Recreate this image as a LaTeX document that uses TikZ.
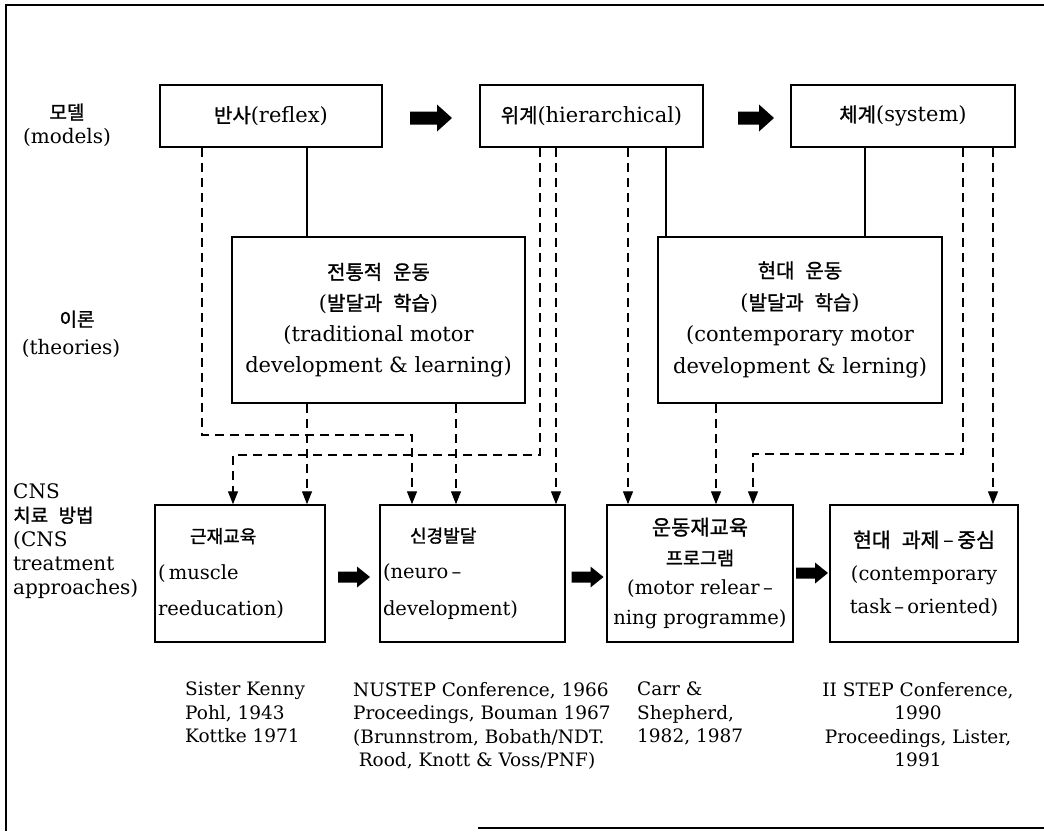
\documentclass[tikz,border=0pt]{standalone}
\usepackage{fontspec}
\setmainfont{DejaVu Serif}
\newfontfamily\kr{Noto Sans CJK KR}[Scale=0.95,FakeBold=1.2]
\usetikzlibrary{arrows.meta,calc}
\newcommand\K[1]{{\kr #1}}
\newcommand\ksp{\hspace{0.55em}}
% block arrow: #1 centre, #2 length, #3 shaft, #4 head width, #5 head length
\newcommand\barrow[5]{%
  \fill #1 ++({-#2/2},{-#3/2}) -- ++({#2-#5},0) -- ++(0,{-(#4-#3)/2})
    -- ++(#5,{#4/2}) -- ++({-#5},{#4/2}) -- ++(0,{-(#4-#3)/2})
    -- ++({-(#2-#5)},0) -- cycle;}
\begin{document}
\begin{tikzpicture}[x=1pt,y=-1pt,
  box/.style={draw,line width=1.5pt,inner sep=0pt,align=center},
  topbox/.style={box,minimum height=62pt,font=\fontsize{21}{25}\selectfont},
  midbox/.style={box,minimum height=166pt,font=\fontsize{21}{31}\selectfont},
  botbox/.style={box,minimum height=137pt,font=\fontsize{19.5}{33}\selectfont},
  lab/.style={inner sep=0pt,font=\fontsize{20}{24}\selectfont},
  refcap/.style={inner sep=0pt,font=\fontsize{18.5}{23.5}\selectfont,align=left,anchor=north west},
  sl/.style={line width=1.4pt},
  dl/.style={line width=1.4pt,dash pattern=on 9pt off 6pt},
  da/.style={dl,-{Triangle[length=13pt,width=10pt]}},
]
\useasboundingbox (0,0) rectangle (1044,831);
\fill[white] (0,0) rectangle (1044,831);
% frame
\draw[line width=1.8pt] (1044,5) -- (6,5) -- (6,831);
\draw[line width=1.8pt] (478,828) -- (1044,828);

% row labels
\node[lab,align=center] (lm) at (67,125) {\K{모델}\\(models)};
\node[lab,align=center,font=\fontsize{20}{28}\selectfont] (lt) at (71,334) {\hspace*{12pt}\K{이론}\\(theories)};
\node[lab,align=left,anchor=west] (lc) at (13,541) {CNS\\\K{치료\ksp 방법}\\(CNS\\treatment\\approaches)};

% models
\node[topbox,minimum width=222pt] (reflex) at (271,116) {\K{반사}(reflex)};
\node[topbox,minimum width=223pt] (hier) at (591.5,116) {\K{위계}(hierarchical)};
\node[topbox,minimum width=224pt] (sys) at (903,116) {\K{체계}(system)};

% theories
\node[midbox,minimum width=293pt] (trad) at (378.5,320)
  {\K{전통적\ksp 운동}\\(\K{발달과\ksp 학습})\\(traditional motor\\development \& learning)};
\node[midbox,minimum width=284pt,font=\fontsize{21}{32}\selectfont] (cont) at (800,320)
  {\K{현대\ksp 운동}\\(\K{발달과\ksp 학습})\\(contemporary motor\\development \& lerning)};

% approaches
\node[botbox,minimum width=170pt,text width=164pt,align=left,inner xsep=3pt,
      font=\fontsize{19.5}{36.5}\selectfont] (mus) at (240,573.5)
  {\hspace*{32pt}{\fontsize{19}{36.5}\selectfont\K{근재교육}}\\(\,muscle\\reeducation)};
\node[botbox,minimum width=185pt,text width=179pt,align=left,inner xsep=3pt,
      font=\fontsize{19.5}{36.5}\selectfont] (neuro) at (472.5,573.5)
  {\hspace*{27pt}{\fontsize{19}{36.5}\selectfont\K{신경발달}}\\(neuro\,–\\development)};
\node[botbox,minimum width=186pt,font=\fontsize{19.5}{30}\selectfont] (motor) at (700,573.5)
  {{\fontsize{22}{30}\selectfont\K{운동재교육}}\\{\fontsize{19.5}{30}\selectfont\K{프로그램}}\\(motor relear\,–\\ning programme)};
\node[botbox,minimum width=188pt] (task) at (924,573.5)
  {{\fontsize{21.5}{33}\selectfont\K{현대\ksp 과제}\,–\,\K{중심}}\\(contemporary\\task\,–\,oriented)};

% big arrows
\barrow{(431,118)}{42}{13}{27}{15}
\barrow{(756,118)}{36}{13}{27}{15}
\barrow{(354,577)}{32}{11}{21}{13}
\barrow{(587.5,577)}{32}{11}{21}{13}
\barrow{(812,573)}{32}{11}{21}{13}

% solid connectors
\draw[sl] (307,0 |- reflex.south) -- (307,0 |- trad.north);
\draw[sl] (666,0 |- hier.south) -- (666,0 |- cont.north);
\draw[sl] (865,0 |- sys.south) -- (865,0 |- cont.north);

% dashed connectors
\draw[da] (202,0 |- reflex.south) -- (202,435) -- (412,435) -- (412,0 |- neuro.north);
\draw[da] (307,0 |- trad.south) -- (307,0 |- mus.north);
\draw[da] (540,0 |- hier.south) -- (540,455) -- (233,455) -- (233,0 |- mus.north);
\draw[da] (456,0 |- trad.south) -- (456,0 |- neuro.north);
\draw[da] (556,0 |- hier.south) -- (556,0 |- neuro.north);
\draw[da] (628,0 |- hier.south) -- (628,0 |- motor.north);
\draw[da] (716,0 |- cont.south) -- (716,0 |- motor.north);
\draw[da] (963,0 |- sys.south) -- (963,454) -- (753,454) -- (753,0 |- motor.north);
\draw[da] (993,0 |- sys.south) -- (993,0 |- task.north);

% references
\node[refcap] (c1) at (185,682) {Sister Kenny\\Pohl, 1943\\Kottke 1971};
\node[refcap] (c2) at (353,682) {NUSTEP Conference, 1966\\Proceedings, Bouman 1967\\(Brunnstrom, Bobath/NDT.\\\hspace*{0.3em}Rood, Knott \& Voss/PNF)};
\node[refcap] (c3) at (637,682) {Carr \&\\Shepherd,\\1982, 1987};
\node[refcap,align=center,anchor=north] (c4) at (918,682) {II STEP Conference,\\1990\\Proceedings, Lister,\\1991};
\end{tikzpicture}
\end{document}
